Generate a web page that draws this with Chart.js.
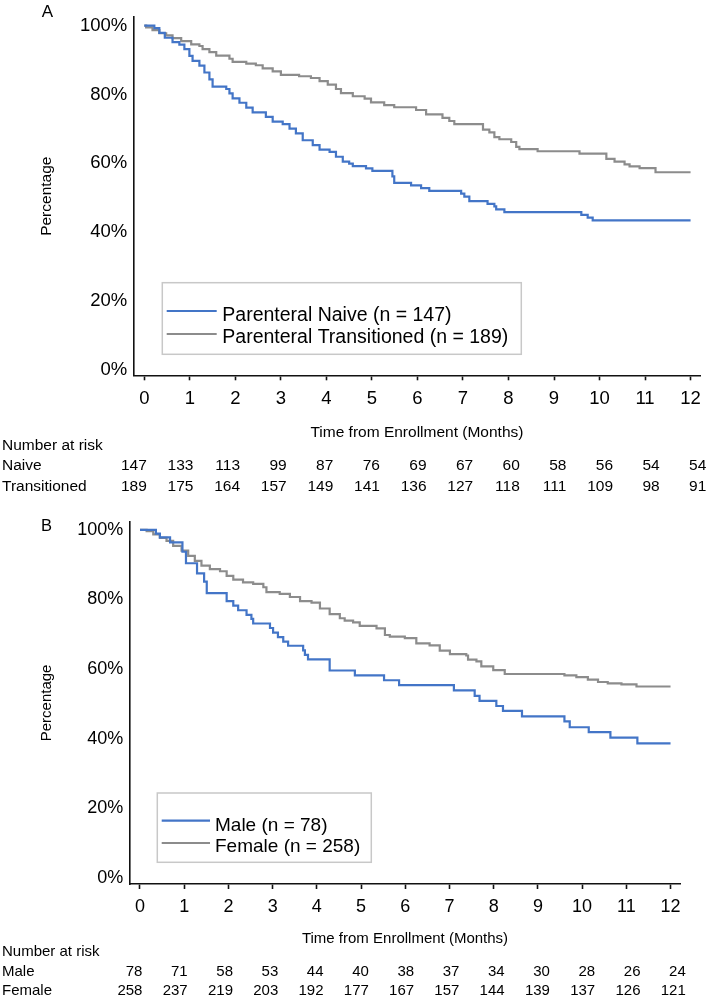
<!DOCTYPE html>
<html>
<head>
<meta charset="utf-8">
<script src="https://cdn.jsdelivr.net/npm/chart.js@4.4.0/dist/chart.umd.min.js"></script>
<style>
html, body { margin: 0; padding: 0; background: #fff; }
#wrap { position: relative; width: 709px; height: 999px; }
canvas { position: absolute; left: 0; }
</style>
</head>
<body>
<div id="wrap">
  <canvas id="chartA" width="709" height="505" style="top:0"></canvas>
  <canvas id="chartB" width="709" height="494" style="top:505px"></canvas>
</div>
<script>
const FONT = "'Liberation Sans', Arial, sans-serif";
const BLUE = '#4375c7';
const GRAY = '#8c8c8c';

const monthTicks = [0, 1, 2, 3, 4, 5, 6, 7, 8, 9, 10, 11, 12];
const pctTicks = [0, 20, 40, 60, 80, 100];

// Panel A - Kaplan-Meier steps (time in months, % remaining)
const naiveTime = [0, 0.22, 0.33, 0.45, 0.62, 0.77, 0.88, 0.99, 1.06, 1.21, 1.32, 1.43, 1.50, 1.80, 1.87, 1.94, 2.09, 2.24, 2.38, 2.67, 2.82, 3.04, 3.19, 3.33, 3.48, 3.70, 3.85, 4.07, 4.21, 4.36, 4.50, 4.58, 4.87, 5.01, 5.45, 5.49, 5.86, 6.08, 6.26, 6.96, 7.03, 7.14, 7.54, 7.69, 7.73, 7.91, 9.60, 9.74, 9.85, 12];
const naiveSurv = [100, 99.3, 97.9, 96.5, 95.2, 94.5, 93.2, 91.2, 89.8, 88.4, 86.4, 84.4, 82.3, 81.6, 80.3, 78.9, 77.6, 76.2, 74.8, 73.5, 72.1, 71.4, 70.1, 68.7, 66.7, 65.3, 64.0, 63.3, 61.9, 60.5, 59.9, 59.2, 58.5, 57.8, 56.2, 54.3, 53.6, 52.8, 52.0, 51.2, 50.3, 49.0, 48.2, 47.5, 46.6, 45.8, 45.0, 44.2, 43.4, 43.4];
const transTime = [0, 0.04, 0.18, 0.33, 0.48, 0.62, 0.81, 1.03, 1.21, 1.28, 1.43, 1.58, 1.87, 1.94, 2.24, 2.45, 2.60, 2.82, 3.00, 3.40, 3.66, 3.85, 4.03, 4.21, 4.32, 4.58, 4.84, 4.98, 5.27, 5.49, 5.97, 6.19, 6.55, 6.70, 6.81, 7.44, 7.58, 7.69, 7.80, 8.06, 8.17, 8.24, 8.64, 9.56, 10.15, 10.33, 10.55, 10.66, 10.88, 11.23, 12];
const transSurv = [100, 99.5, 98.7, 97.8, 97.2, 96.4, 95.5, 94.6, 94.1, 93.2, 92.3, 91.3, 90.4, 89.5, 89.0, 88.5, 87.6, 86.7, 85.7, 85.3, 84.8, 83.9, 82.9, 81.6, 80.4, 79.5, 78.8, 77.7, 76.9, 76.3, 75.5, 74.2, 73.2, 72.3, 71.4, 69.8, 69.0, 67.6, 67.0, 66.2, 64.8, 64.1, 63.5, 62.8, 61.3, 60.5, 59.7, 59.1, 58.6, 57.4, 57.4];

// Panel B
const maleTime = [0, 0.36, 0.45, 0.68, 0.96, 1.04, 1.29, 1.45, 1.51, 1.96, 2.11, 2.22, 2.41, 2.52, 2.56, 2.94, 3.01, 3.12, 3.24, 3.35, 3.69, 3.73, 3.80, 4.29, 4.86, 5.52, 5.86, 7.10, 7.57, 7.68, 8.06, 8.21, 8.64, 9.60, 9.72, 10.15, 10.64, 11.25, 12];
const maleSurv = [100, 98.9, 97.8, 96.4, 93.7, 90.4, 87.5, 85.1, 81.8, 79.5, 78.2, 76.9, 75.6, 74.4, 73.1, 71.8, 70.5, 69.2, 67.9, 66.7, 65.4, 64.1, 62.8, 59.6, 58.2, 56.8, 55.4, 53.9, 52.3, 50.9, 49.4, 48.0, 46.4, 45.0, 43.3, 41.9, 40.3, 38.7, 38.7];
const femaleTime = [0, 0.15, 0.30, 0.45, 0.60, 0.75, 0.94, 1.09, 1.24, 1.39, 1.58, 1.81, 1.96, 2.11, 2.33, 2.56, 2.79, 2.86, 3.16, 3.39, 3.62, 3.88, 4.07, 4.29, 4.52, 4.63, 4.82, 4.97, 5.35, 5.54, 5.65, 5.99, 6.25, 6.55, 6.78, 7.01, 7.38, 7.42, 7.61, 7.72, 7.99, 8.25, 9.60, 9.87, 10.13, 10.36, 10.58, 10.89, 11.23, 12];
const femaleSurv = [100, 99.6, 98.7, 97.7, 96.8, 95.4, 94.0, 92.5, 91.1, 89.7, 88.7, 88.1, 86.8, 85.7, 84.9, 84.5, 83.5, 82.1, 81.6, 80.7, 79.5, 79.1, 77.4, 75.8, 74.6, 73.9, 73.4, 72.4, 71.7, 69.8, 69.3, 68.9, 67.4, 66.8, 65.3, 64.3, 63.9, 62.7, 62.2, 60.8, 59.7, 58.6, 58.2, 57.7, 57.0, 56.3, 55.9, 55.6, 55.0, 55.0];

// Number at risk
const naiveRisk = [147, 133, 113, 99, 87, 76, 69, 67, 60, 58, 56, 54, 54];
const transRisk = [189, 175, 164, 157, 149, 141, 136, 127, 118, 111, 109, 98, 91];
const maleRisk = [78, 71, 58, 53, 44, 40, 38, 37, 34, 30, 28, 26, 24];
const femaleRisk = [258, 237, 219, 203, 192, 177, 167, 157, 144, 139, 137, 126, 121];

function makeExtras(p) {
    return {
        id: 'extras',
        afterDraw(chart) {
            const ctx = chart.ctx;
            const x = chart.scales.x;
            ctx.save();
            ctx.fillStyle = '#000';

            // panel letter
            ctx.font = p.letterSize + 'px ' + FONT;
            ctx.textAlign = 'center';
            ctx.textBaseline = 'middle';
            ctx.fillText(p.letter, p.letterX, p.letterY);

            // legend box
            const L = p.legend;
            ctx.strokeStyle = '#c8c8c8';
            ctx.lineWidth = 1.5;
            ctx.strokeRect(L.left, L.top, L.right - L.left, L.bottom - L.top);
            ctx.font = L.size + 'px ' + FONT;
            ctx.textAlign = 'left';
            ctx.textBaseline = 'alphabetic';
            chart.data.datasets.forEach((ds, i) => {
                ctx.strokeStyle = ds.borderColor;
                ctx.lineWidth = ds.borderWidth;
                ctx.beginPath();
                ctx.moveTo(L.lineX0, L.lineY[i]);
                ctx.lineTo(L.lineX1, L.lineY[i]);
                ctx.stroke();
                ctx.fillText(ds.label, L.textX, L.baseY[i]);
            });

            // number at risk table
            ctx.font = p.tableSize + 'px ' + FONT;
            ctx.textBaseline = 'middle';
            ctx.textAlign = 'left';
            ctx.fillText('Number at risk', 2, p.tableY[0]);
            p.riskNames.forEach((name, r) => {
                const yy = p.tableY[r + 1];
                ctx.textAlign = 'left';
                ctx.fillText(name, 2, yy);
                ctx.textAlign = 'right';
                p.risk[r].forEach((n, i) => {
                    const t = monthTicks[i];
                    ctx.fillText(String(n), x.getPixelForValue(t) + p.k * (2.5 + 1.1 * t), yy);
                });
            });
            ctx.restore();
        }
    };
}

function kmChart(canvasId, p) {
    const mk = (ts, ss) => ts.map((t, i) => ({x: t, y: ss[i]}));
    const line = (label, color, pts) => ({
        label: label,
        data: pts,
        borderColor: color,
        backgroundColor: color,
        borderWidth: 2.2,
        pointRadius: 0,
        stepped: 'before',
        fill: false
    });
    const axisBorder = {display: true, color: '#111', width: 1.6};
    return new Chart(document.getElementById(canvasId), {
        type: 'line',
        data: {
            datasets: [
                line(p.labels[0], BLUE, mk(p.series[0][0], p.series[0][1])),
                line(p.labels[1], GRAY, mk(p.series[1][0], p.series[1][1]))
            ]
        },
        options: {
            responsive: false,
            animation: false,
            events: [],
            layout: {padding: {left: 0, top: p.top, right: 709 - p.right, bottom: 0}},
            plugins: {legend: {display: false}, tooltip: {enabled: false}},
            scales: {
                x: {
                    type: 'linear',
                    min: p.xMin,
                    max: p.xMax,
                    afterBuildTicks: s => { s.ticks = monthTicks.map(v => ({value: v})); },
                    afterFit: s => { s.height = p.xAxisH; },
                    border: axisBorder,
                    grid: {drawOnChartArea: false, tickLength: 5, tickWidth: 1.6, tickColor: '#111'},
                    ticks: {font: {family: FONT, size: p.tickSize}, color: '#000', padding: p.xTickPad, maxRotation: 0, autoSkip: false},
                    title: {display: true, text: 'Time from Enrollment (Months)', color: '#000',
                        font: {family: FONT, size: p.titleSize}, padding: {top: 0, bottom: p.xTitlePad}}
                },
                y: {
                    min: p.yMin,
                    max: p.yMax,
                    afterBuildTicks: s => { s.ticks = pctTicks.map(v => ({value: v})); },
                    afterFit: s => { s.width = p.left; },
                    border: axisBorder,
                    grid: {drawOnChartArea: false, drawTicks: false},
                    ticks: {font: {family: FONT, size: p.tickSize}, color: '#000', padding: 6, callback: v => v + '%'},
                    title: {display: true, text: 'Percentage', color: '#000',
                        font: {family: FONT, size: p.titleSize}, padding: {top: p.yTitlePad, bottom: 0}}
                }
            }
        },
        plugins: [makeExtras(p)]
    });
}

kmChart('chartA', {
    letter: 'A', letterX: 47.5, letterY: 12.3, letterSize: 17,
    labels: ['Parenteral Naive (n = 147)', 'Parenteral Transitioned (n = 189)'],
    series: [[naiveTime, naiveSurv], [transTime, transSurv]],
    riskNames: ['Naive', 'Transitioned'],
    risk: [naiveRisk, transRisk],
    k: 1,
    left: 133.3, right: 700.7, top: 2, xAxisH: 129.7,
    xMin: -0.242, xMax: 12.22, yMin: -1.62, yMax: 102.5,
    tickSize: 18.5, titleSize: 15.5, tableSize: 15.5,
    xTickPad: 8, xTitlePad: 63.3, yTitlePad: 37.4,
    tableY: [445.7, 466, 486.7],
    legend: {left: 162.3, top: 282.7, right: 521.3, bottom: 354.3,
        lineX0: 166.7, lineX1: 216.7, lineY: [311, 334], textX: 222.3, baseY: [320.7, 343.3], size: 19.5}
});

kmChart('chartB', {
    letter: 'B', letterX: 46.4, letterY: 21.7, letterSize: 16.5,
    labels: ['Male (n = 78)', 'Female (n = 258)'],
    series: [[maleTime, maleSurv], [femaleTime, femaleSurv]],
    riskNames: ['Male', 'Female'],
    risk: [maleRisk, femaleRisk],
    k: 0.97,
    left: 129.3, right: 680.7, top: 15, xAxisH: 115,
    xMin: -0.242, xMax: 12.23, yMin: -1.71, yMax: 102.3,
    tickSize: 18, titleSize: 15, tableSize: 15,
    xTickPad: 7, xTitlePad: 51, yTitlePad: 37.7,
    tableY: [446.7, 466.7, 486.3],
    legend: {left: 157.3, top: 288, right: 371.3, bottom: 357.3,
        lineX0: 161.7, lineX1: 210, lineY: [315.7, 338], textX: 215, baseY: [325.7, 347.3], size: 19}
});
</script>
</body>
</html>
